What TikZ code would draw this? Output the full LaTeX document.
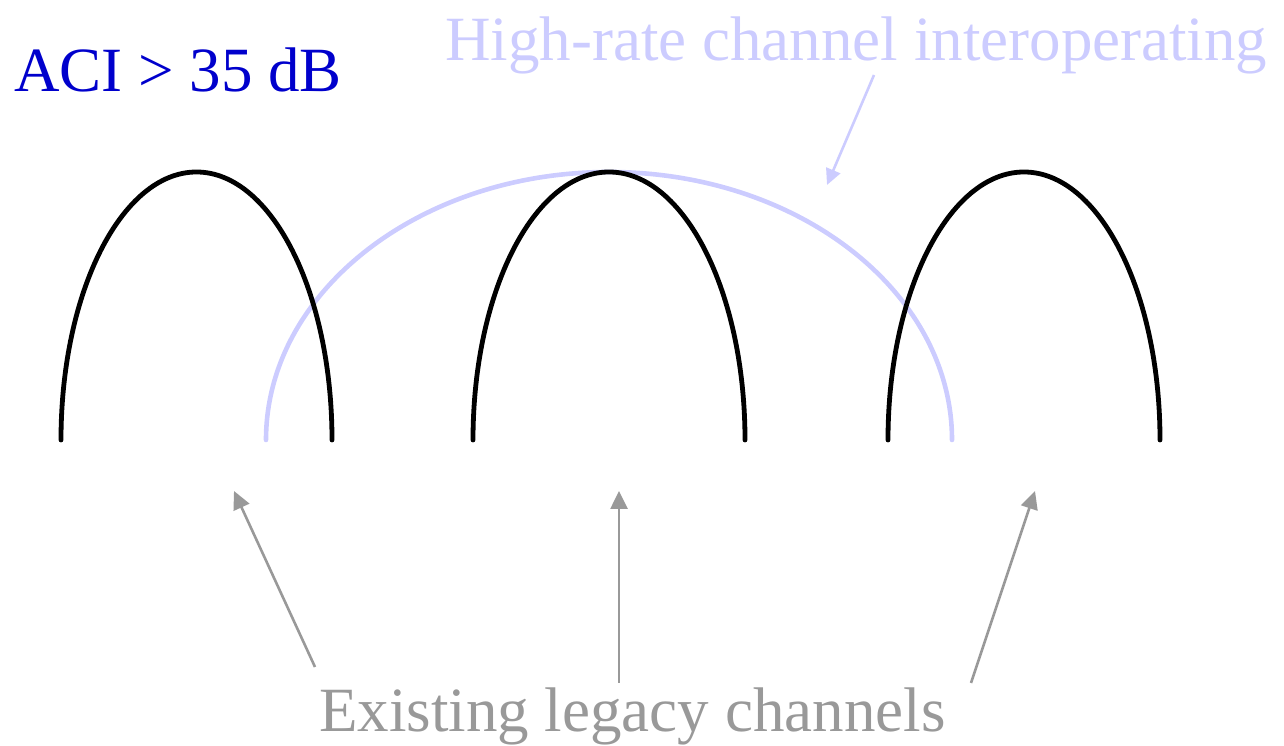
\documentclass[tikz,border=0pt]{standalone}
\usepackage{fontspec}
\setmainfont{Liberation Serif}
\usetikzlibrary{arrows.meta}
\definecolor{aciblue}{RGB}{0,0,204}
\definecolor{hrblue}{RGB}{204,204,255}
\definecolor{legacygray}{RGB}{153,153,153}
\tikzset{
  legacy/.style={line width=4.8pt, line cap=round, black},
  highrate/.style={line width=4.6pt, line cap=round, hrblue},
  graylabel/.style={anchor=base west, inner sep=0pt, text=legacygray, font=\fontsize{63}{70}\selectfont},
  grayarrow/.style={line width=2.6pt, legacygray, -{Triangle[length=18pt,width=17pt]}},
  bluearrow/.style={line width=2.6pt, hrblue, -{Triangle[length=16pt,width=15pt]}},
}
\begin{document}
\begin{tikzpicture}[x=1pt,y=1pt]
\useasboundingbox (0,0) rectangle (1284,746);
% high-rate wide channel
\draw[highrate] (266,306) arc[start angle=180,end angle=0,x radius=343,y radius=268];
% legacy channels
\draw[legacy] (61,306) arc[start angle=180,end angle=0,x radius=135.5,y radius=268];
\draw[legacy] (473,306) arc[start angle=180,end angle=0,x radius=136,y radius=268];
\draw[legacy] (888,306) arc[start angle=180,end angle=0,x radius=136,y radius=268];
% labels
\node[anchor=base west, inner sep=0pt, text=aciblue, font=\fontsize{63}{70}\selectfont] (aci) at (14,654) {ACI > 35 dB};
\node[anchor=base west, inner sep=0pt, text=hrblue, font=\fontsize{63}{70}\selectfont] (hr) at (445,685) {High-rate channel interoperating};
\node[graylabel] (ex) at (319,14) {Existing legacy channels};
% arrow end points
\coordinate (hrs) at (874,671);
\coordinate (hrt) at (827,561);
\coordinate (l1s) at (315,79);
\coordinate (l1t) at (234,255);
\coordinate (l2s) at (619,63);
\coordinate (l2t) at (619,255);
\coordinate (l3s) at (971,63);
\coordinate (l3t) at (1035,255);
\draw[bluearrow] (hrs) -- (hrt);
\draw[grayarrow] (l1s) -- (l1t);
\draw[grayarrow] (l2s) -- (l2t);
\draw[grayarrow] (l3s) -- (l3t);
\end{tikzpicture}
\end{document}
